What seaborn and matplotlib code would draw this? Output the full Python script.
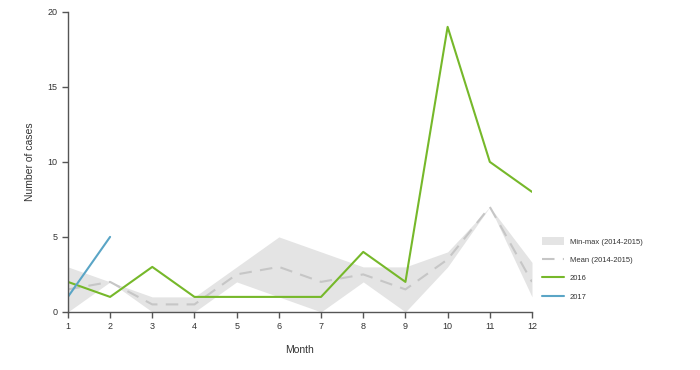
import matplotlib
matplotlib.use("Agg")
import matplotlib.pyplot as plt
import seaborn as sns
import pandas as pd
from matplotlib.patches import Patch
from matplotlib.lines import Line2D

months = [1, 2, 3, 4, 5, 6, 7, 8, 9, 10, 11, 12]
band_min = [0, 2, 0, 0, 2, 1, 0, 2, 0, 3, 7, 1]
band_max = [3, 2, 1, 1, 3, 5, 4, 3, 3, 4, 7, 3.3]
mean_1415 = [1.5, 2, 0.5, 0.5, 2.5, 3, 2, 2.5, 1.5, 3.5, 7, 2]
cases_2016 = [2, 1, 3, 1, 1, 1, 1, 4, 2, 19, 10, 8]
months_2017 = [1, 2]
cases_2017 = [1, 5]

sns.set_style("white")
plt.rcParams['font.family'] = ['Liberation Sans', 'DejaVu Sans']

fig = plt.figure(figsize=(7, 3.7), dpi=100)
ax = fig.add_axes([0.097, 0.157, 0.663, 0.811])

band_col = "#e4e4e4"
mean_col = "#c6c6c6"
c2016 = "#76b82a"
c2017 = "#5aa5c6"

ax.fill_between(months, band_min, band_max, color=band_col, lw=0)
df16 = pd.DataFrame({"Month": months, "Cases": cases_2016, "Mean": mean_1415})
df17 = pd.DataFrame({"Month": months_2017, "Cases": cases_2017})
sns.lineplot(data=df16, x="Month", y="Mean", ax=ax, color=mean_col, lw=1.5,
             dashes=False, linestyle=(0, (6, 4)))
sns.lineplot(data=df16, x="Month", y="Cases", ax=ax, color=c2016, lw=1.5)
sns.lineplot(data=df17, x="Month", y="Cases", ax=ax, color=c2017, lw=1.5)

ax.set_xlim(1, 12)
ax.set_ylim(0, 20)
ax.set_xticks(months)
ax.set_yticks([0, 5, 10, 15, 20])
for s in ["top", "right"]:
    ax.spines[s].set_visible(False)
for s in ["left", "bottom"]:
    ax.spines[s].set_color("#555555")
    ax.spines[s].set_linewidth(1)
ax.tick_params(axis="both", direction="out", length=4, width=1, color="#555555",
               labelsize=6.5, labelcolor="#333333", bottom=True, left=True)
ax.set_xlabel("Month", fontsize=7.5, color="#333333", labelpad=10)
ax.set_ylabel("Number of cases", fontsize=7.5, color="#333333", labelpad=9)

handles = [Patch(facecolor=band_col, edgecolor="none"),
           Line2D([], [], color=mean_col, lw=1.5, linestyle=(0, (6, 4))),
           Line2D([], [], color=c2016, lw=1.5),
           Line2D([], [], color=c2017, lw=1.5)]
labels = ["Min-max (2014-2015)", "Mean (2014-2015)", "2016", "2017"]
fig.legend(handles, labels, loc="upper left", bbox_to_anchor=(0.765, 0.378),
           frameon=False, fontsize=5.5, handlelength=2.8, handleheight=1.2,
           labelspacing=1.3, labelcolor="#333333")

fig.savefig("out.png", dpi=100)
